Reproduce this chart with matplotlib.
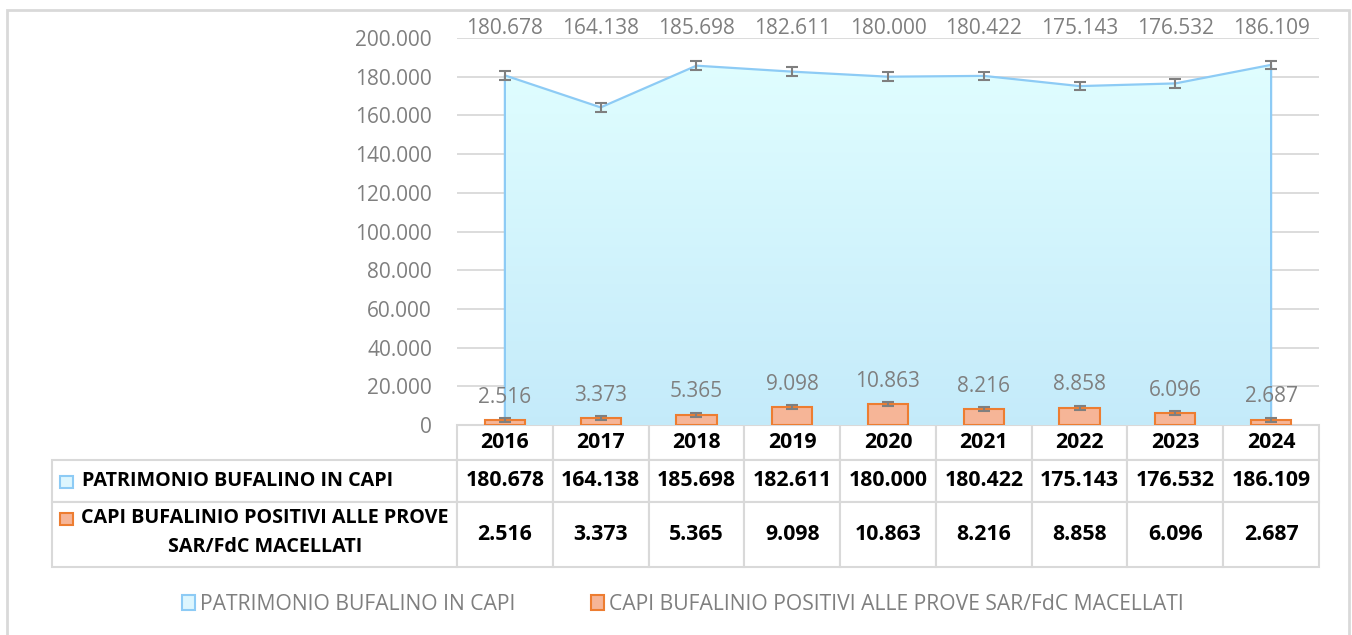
import matplotlib
matplotlib.use('Agg')
import matplotlib.pyplot as plt
import numpy as np
from matplotlib.table import Table
from matplotlib.patches import Rectangle, Patch
from matplotlib.ticker import FuncFormatter

plt.rcParams['font.family'] = ['Open Sans', 'DejaVu Sans']

# ---------------- data ----------------
years = ['2016', '2017', '2018', '2019', '2020', '2021', '2022', '2023', '2024']
patrimonio = [180678, 164138, 185698, 182611, 180000, 180422, 175143, 176532, 186109]
positivi = [2516, 3373, 5365, 9098, 10863, 8216, 8858, 6096, 2687]
series_names = ['PATRIMONIO BUFALINO IN CAPI',
                'CAPI BUFALINIO POSITIVI ALLE PROVE SAR/FdC MACELLATI']
row_labels = ['PATRIMONIO BUFALINO IN CAPI',
              'CAPI BUFALINIO POSITIVI ALLE PROVE\nSAR/FdC MACELLATI']
y_ticks = [0, 20000, 40000, 60000, 80000, 100000, 120000, 140000, 160000, 180000, 200000]


def fmt(v):
    return f"{v:,.0f}".replace(',', '.')


# ---------------- styles ----------------
GRAY = '#7F7F7F'
GRID = '#D9D9D9'
LINE_BLUE = '#8DCBF5'
AREA_TOP = np.array([0.885, 1.0, 1.0])
AREA_BOT = np.array([0.77, 0.92, 0.98])
BAR_FACE = '#F6B597'
BAR_EDGE = '#ED7D31'

W, H = 1352, 635
fig = plt.figure(figsize=(W / 100, H / 100), dpi=100)


def fx(x):
    return x / W


def fy(y):
    return 1 - y / H


AX_L, AX_R, AX_T, AX_B = 457, 1319, 38, 425
AX_W, AX_H = AX_R - AX_L, AX_B - AX_T
ax = fig.add_axes([fx(AX_L), fy(AX_B), AX_W / W, AX_H / H])
x = np.arange(len(years))
n = len(years)

# area with vertical gradient
poly = ax.fill_between(x, 0, patrimonio, facecolor='none', edgecolor='none', zorder=1)
grad = np.linspace(0, 1, 256).reshape(-1, 1, 1)
img = AREA_BOT + (AREA_TOP - AREA_BOT) * grad
im = ax.imshow(img, extent=[x[0], x[-1], 0, 200000], origin='lower', aspect='auto',
               zorder=1, interpolation='bilinear')
im.set_clip_path(poly.get_paths()[0], ax.transData)
ax.plot(np.r_[x[0], x, x[-1]], np.r_[0, patrimonio, 0], color=LINE_BLUE, lw=1.6, zorder=2)

se1 = np.std(patrimonio, ddof=1) / np.sqrt(n)
se2 = np.std(positivi, ddof=1) / np.sqrt(n)
ax.errorbar(x, patrimonio, yerr=se1, fmt='none', ecolor=GRAY, elinewidth=1.5,
            capsize=4.5, capthick=1.5, zorder=4)

ax.bar(x, positivi, width=0.42, color=BAR_FACE, edgecolor=BAR_EDGE, lw=1.5, zorder=3)
ax.errorbar(x, positivi, yerr=se2, fmt='none', ecolor=GRAY, elinewidth=1.5,
            capsize=4.5, capthick=1.5, zorder=4)

ax.set_xlim(-0.5, n - 0.5)
ax.set_ylim(0, 200000)
ax.set_yticks(y_ticks)
ax.yaxis.set_major_formatter(FuncFormatter(lambda v, p: fmt(v)))
ax.grid(axis='y', color=GRID, lw=1.3, zorder=0)
ax.set_axisbelow(True)
ax.tick_params(axis='y', length=0, pad=18, labelsize=15, labelcolor=GRAY)
ax.tick_params(axis='x', length=0, labelbottom=False)
for s in ax.spines.values():
    s.set_visible(False)

# data labels
for xi, v in zip(x, patrimonio):
    ax.text(xi, 1 + 10 / AX_H, fmt(v), transform=ax.get_xaxis_transform(),
            ha='center', va='center', fontsize=15, color=GRAY)
for xi, v in zip(x, positivi):
    ax.annotate(fmt(v), (xi, v), xytext=(0, 16.5), textcoords='offset points',
                ha='center', va='center', fontsize=15, color=GRAY, zorder=5)

# data table (sizes in axes fractions)
TBL_L = 52
heights = [35 / AX_H, 42 / AX_H, 65 / AX_H]
col_w = 1 / n
lab_w = (AX_L - TBL_L) / AX_W
tot_h = sum(heights)
tab = Table(ax, bbox=[0, -tot_h, 1, tot_h])
cells = []
for j, yr in enumerate(years):
    cells.append(tab.add_cell(0, j, width=col_w, height=heights[0], text=yr, loc='center',
                              edgecolor=GRID, facecolor='white'))
for i, series in enumerate([patrimonio, positivi]):
    cells.append(tab.add_cell(i + 1, -1, width=lab_w, height=heights[i + 1], text='',
                              edgecolor=GRID, facecolor='white'))
    for j, v in enumerate(series):
        cells.append(tab.add_cell(i + 1, j, width=col_w, height=heights[i + 1], text=fmt(v),
                                  loc='center', edgecolor=GRID, facecolor='white'))
tab.auto_set_font_size(False)
tab.set_fontsize(15.3)
for c in cells:
    c.set_linewidth(1.5)
    c.get_text().set_fontweight('bold')
    c.get_text().set_color('black')
ax.add_table(tab)

# row labels with keys
fig.text(fx(82), fy(481.5), row_labels[0], ha='left', va='center', fontsize=14.2,
         fontweight='bold', color='black')
fig.text(fx(265), fy(532.5), row_labels[1], ha='center', va='center', fontsize=14.2,
         fontweight='bold', color='black', multialignment='center', linespacing=1.55)
fig.patches.append(Rectangle((fx(60), fy(488)), 13 / W, 12 / H, transform=fig.transFigure,
                             facecolor='#DDF6FE', edgecolor=LINE_BLUE, lw=1.5))
fig.patches.append(Rectangle((fx(60), fy(525)), 13 / W, 12 / H, transform=fig.transFigure,
                             facecolor=BAR_FACE, edgecolor=BAR_EDGE, lw=1.5))

# legend
handles = [Patch(facecolor='#DDF6FE', edgecolor=LINE_BLUE, lw=1.5),
           Patch(facecolor=BAR_FACE, edgecolor=BAR_EDGE, lw=1.5)]
fig.legend(handles=handles, labels=series_names, loc='center',
           bbox_to_anchor=(fx(683), fy(604)), ncol=2, frameon=False, fontsize=15.2,
           labelcolor=GRAY, handlelength=0.6, handleheight=0.7, handletextpad=0.25,
           columnspacing=3.6)

# chart border
fig.patches.append(Rectangle((fx(7), fy(640)), (1349 - 7) / W, (640 - 9.5) / H,
                             transform=fig.transFigure, facecolor='none',
                             edgecolor=GRID, lw=2))

fig.savefig('out.png', dpi=100)
